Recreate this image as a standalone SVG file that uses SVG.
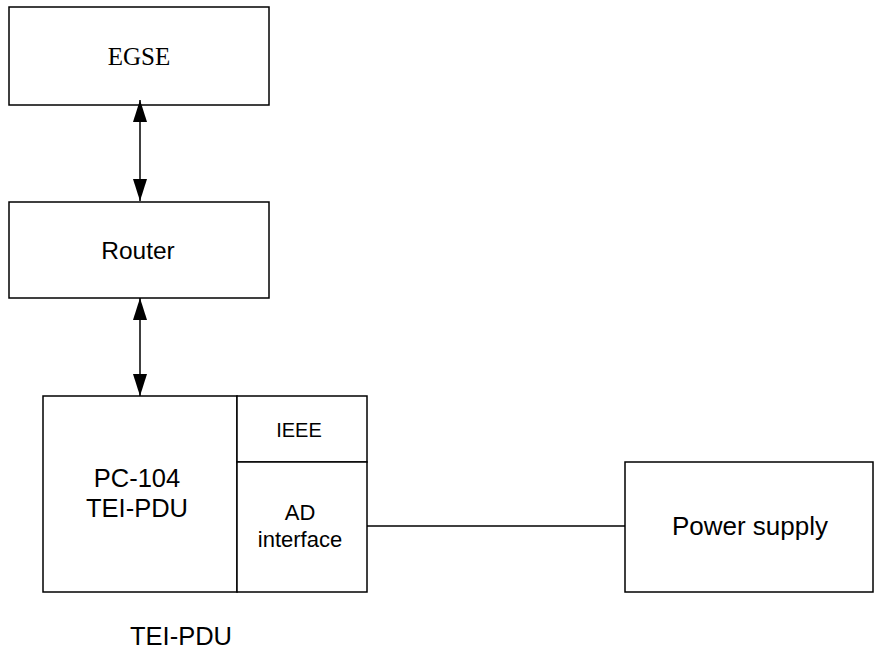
<svg xmlns="http://www.w3.org/2000/svg" width="874" height="650" viewBox="0 0 874 650">
  <style>
    .box { fill: #ffffff; stroke: #000000; stroke-width: 1.5; }
    .wire { fill: none; stroke: #000000; stroke-width: 1.5; }
    .sans { font-family: "Liberation Sans", Arial, sans-serif; fill: #000000; text-anchor: middle; }
    .serif { font-family: "Liberation Serif", "Times New Roman", serif; fill: #000000; text-anchor: middle; }
  </style>
  <defs>
    <marker id="head" viewBox="0 0 22 14" refX="22" refY="7" markerWidth="22" markerHeight="14" markerUnits="userSpaceOnUse" orient="auto-start-reverse">
      <path d="M0,0 L22,7 L0,14 Z" fill="#000000"/>
    </marker>
  </defs>

  <rect width="874" height="650" fill="#ffffff"/>

  <g id="egse">
    <rect class="box" x="9" y="7" width="260" height="98"/>
    <text class="serif" x="139" y="65" font-size="25">EGSE</text>
  </g>

  <g id="router">
    <rect class="box" x="9" y="202" width="260" height="96"/>
    <text class="sans" x="138" y="259" font-size="24.5">Router</text>
  </g>

  <g id="pc104">
    <rect class="box" x="43" y="396" width="194" height="196"/>
    <text class="sans" x="137" y="487" font-size="25.5">PC-104</text>
    <text class="sans" x="137" y="517" font-size="25.5">TEI-PDU</text>
  </g>

  <g id="ieee">
    <rect class="box" x="237" y="396" width="130" height="66"/>
    <text class="sans" x="299" y="437" font-size="20">IEEE</text>
  </g>

  <g id="ad-interface">
    <rect class="box" x="237" y="462" width="130" height="130"/>
    <text class="sans" x="300" y="520" font-size="22">AD</text>
    <text class="sans" x="300" y="547" font-size="22">interface</text>
  </g>

  <g id="power-supply">
    <rect class="box" x="625" y="462" width="248" height="130"/>
    <text class="sans" x="750" y="535" font-size="26">Power supply</text>
  </g>

  <g id="caption">
    <text class="sans" x="181" y="645" font-size="25.5">TEI-PDU</text>
  </g>

  <g id="connectors">
    <line class="wire" x1="140" y1="100" x2="140" y2="201" marker-start="url(#head)" marker-end="url(#head)"/>
    <line class="wire" x1="140" y1="298" x2="140" y2="396" marker-start="url(#head)" marker-end="url(#head)"/>
    <line class="wire" x1="367" y1="526" x2="625" y2="526"/>
  </g>
</svg>
